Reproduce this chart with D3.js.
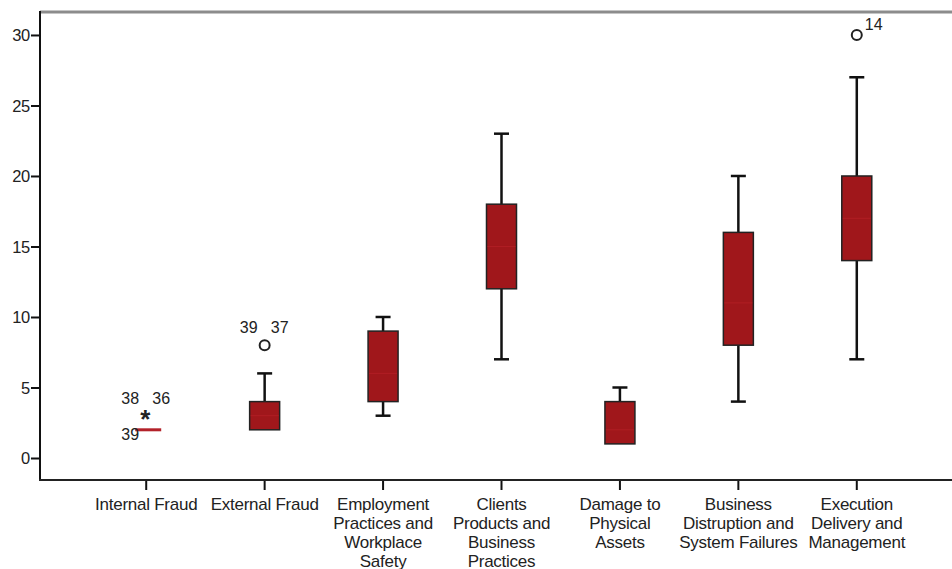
<!DOCTYPE html>
<html>
<head>
<meta charset="utf-8">
<script src="https://cdn.jsdelivr.net/npm/d3@7/dist/d3.min.js"></script>
<style>
  html, body { margin: 0; padding: 0; background: #fff; }
  svg { display: block; }
  text { font-family: "Liberation Sans", Arial, sans-serif; fill: #222; }
</style>
</head>
<body>
<svg id="chart" width="952" height="569"></svg>
<script>
// Operational-loss event types and their box-plot summaries
const categories = [
  ["Internal Fraud"],
  ["External Fraud"],
  ["Employment", "Practices and", "Workplace", "Safety"],
  ["Clients", "Products and", "Business", "Practices"],
  ["Damage to", "Physical", "Assets"],
  ["Business", "Distruption and", "System Failures"],
  ["Execution", "Delivery and", "Management"]
];
const whiskerLow  = [2, 2, 3, 7, 1, 4, 7];
const q1          = [2, 2, 4, 12, 1, 8, 14];
const median      = [2, 3, 6, 15, 2, 11, 17];
const q3          = [2, 4, 9, 18, 4, 16, 20];
const whiskerHigh = [2, 6, 10, 23, 5, 20, 27];

// Points outside the whiskers: [category index, value, kind, case labels]
const outliers = [
  [0, 3, "extreme", ["38", "36"]],
  [0, 2, "extreme", ["39"]],
  [1, 8, "mild", ["39", "37"]],
  [6, 30, "mild", ["14"]]
];
const yTicks = [0, 5, 10, 15, 20, 25, 30];

const svg = d3.select("#chart");
const plotL = 40, plotR = 952, plotT = 11, plotB = 480;

const y = d3.scaleLinear().domain([-1.56, 31.7]).range([plotB, plotT]);
const x = d3.scaleBand().domain(d3.range(categories.length)).range([87, 916]).padding(0);
const cx = i => x(i) + x.bandwidth() / 2;

const boxW = 30, capW = 15;
const fill = "#a0171b";

// top frame line
svg.append("line").attr("x1", plotL).attr("x2", plotR).attr("y1", plotT + 1).attr("y2", plotT + 1)
  .attr("stroke", "#8c8c8c").attr("stroke-width", 3);

// y axis
const yAxis = svg.append("g").attr("transform", `translate(${plotL},0)`)
  .call(d3.axisLeft(y).tickValues(yTicks).tickSize(9).tickSizeOuter(0));
yAxis.select(".domain").remove();
yAxis.selectAll(".tick line").attr("stroke", "#111").attr("stroke-width", 2);
yAxis.selectAll(".tick text").attr("font-size", 16.5).attr("x", -10).attr("dy", "0.36em")
  .attr("letter-spacing", -0.3)
  .attr("font-family", "Liberation Sans, Arial, sans-serif").attr("fill", "#222");
svg.append("line").attr("x1", plotL).attr("x2", plotL).attr("y1", plotT).attr("y2", plotB + 1)
  .attr("stroke", "#111").attr("stroke-width", 2);

// x axis
const xAxis = svg.append("g").attr("transform", `translate(0,${plotB})`)
  .call(d3.axisBottom(x).tickSize(10).tickSizeOuter(0).tickFormat(""));
xAxis.select(".domain").remove();
xAxis.selectAll(".tick line").attr("stroke", "#111").attr("stroke-width", 2);
svg.append("line").attr("x1", plotL - 1).attr("x2", plotR).attr("y1", plotB).attr("y2", plotB)
  .attr("stroke", "#222").attr("stroke-width", 2);

// category labels (multi-line)
const labels = svg.append("g");
categories.forEach((lines, i) => {
  const t = labels.append("text").attr("x", cx(i)).attr("y", plotB + 30)
    .attr("text-anchor", "middle").attr("font-size", 17).attr("letter-spacing", -0.25);
  lines.forEach((ln, k) => t.append("tspan").attr("x", cx(i)).attr("dy", k === 0 ? 0 : 19).text(ln));
});

// boxes
const g = svg.append("g");
categories.forEach((_, i) => {
  const c = cx(i);
  if (q1[i] === q3[i]) {
    // degenerate box drawn as a single line
    g.append("line").attr("x1", c - 11).attr("x2", c + 15).attr("y1", y(median[i])).attr("y2", y(median[i]))
      .attr("stroke", "#b3222a").attr("stroke-width", 3);
    return;
  }
  // whiskers
  if (whiskerHigh[i] > q3[i]) {
    g.append("line").attr("x1", c).attr("x2", c).attr("y1", y(q3[i])).attr("y2", y(whiskerHigh[i]))
      .attr("stroke", "#111").attr("stroke-width", 2.5);
    g.append("line").attr("x1", c - capW / 2).attr("x2", c + capW / 2)
      .attr("y1", y(whiskerHigh[i])).attr("y2", y(whiskerHigh[i]))
      .attr("stroke", "#111").attr("stroke-width", 2.5);
  }
  if (whiskerLow[i] < q1[i]) {
    g.append("line").attr("x1", c).attr("x2", c).attr("y1", y(q1[i])).attr("y2", y(whiskerLow[i]))
      .attr("stroke", "#111").attr("stroke-width", 2.5);
    g.append("line").attr("x1", c - capW / 2).attr("x2", c + capW / 2)
      .attr("y1", y(whiskerLow[i])).attr("y2", y(whiskerLow[i]))
      .attr("stroke", "#111").attr("stroke-width", 2.5);
  }
  g.append("rect").attr("x", c - boxW / 2).attr("width", boxW)
    .attr("y", y(q3[i])).attr("height", y(q1[i]) - y(q3[i]))
    .attr("fill", fill).attr("stroke", "#222").attr("stroke-width", 1.5);
  // median line in a slightly lighter red
  g.append("line").attr("x1", c - boxW / 2 + 1).attr("x2", c + boxW / 2 - 1)
    .attr("y1", y(median[i])).attr("y2", y(median[i]))
    .attr("stroke", "#b01e24").attr("stroke-width", 1);
});

// outliers and their case labels
outliers.forEach(([i, v, kind, labs]) => {
  const c = cx(i), py = y(v);
  if (kind === "mild") {
    g.append("circle").attr("cx", c).attr("cy", py).attr("r", 5)
      .attr("fill", "none").attr("stroke", "#222").attr("stroke-width", 2);
  }
  if (i === 0 && v === 3) {
    g.append("text").attr("x", c - 1).attr("y", py + 12).attr("text-anchor", "middle")
      .attr("font-size", 26).attr("font-weight", "bold").attr("fill", "#111").text("*");
  }
  if (labs.length === 2) {
    g.append("text").attr("x", c - 16).attr("y", py - 12).attr("text-anchor", "middle")
      .attr("font-size", 16).text(labs[0]);
    g.append("text").attr("x", c + 15).attr("y", py - 12).attr("text-anchor", "middle")
      .attr("font-size", 16).text(labs[1]);
  } else if (i === 0) {
    g.append("text").attr("x", c - 16).attr("y", py + 10).attr("text-anchor", "middle")
      .attr("font-size", 16).text(labs[0]);
  } else {
    g.append("text").attr("x", c + 8).attr("y", py - 5).attr("text-anchor", "start")
      .attr("font-size", 16).text(labs[0]);
  }
});
</script>
</body>
</html>
